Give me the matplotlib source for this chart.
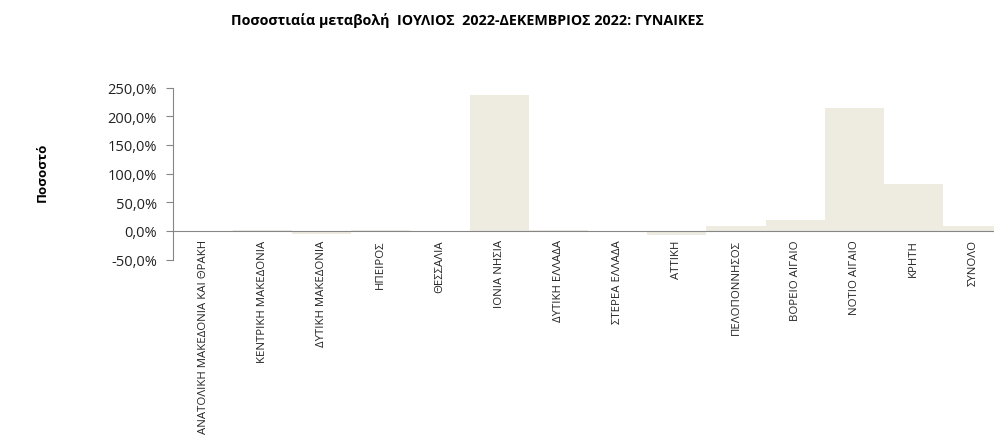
import matplotlib
matplotlib.use("Agg")
import matplotlib.pyplot as plt
from matplotlib.ticker import FuncFormatter, MultipleLocator

plt.rcParams['font.family'] = ['Open Sans', 'DejaVu Sans']

categories = ["ΑΝΑΤΟΛΙΚΗ ΜΑΚΕΔΟΝΙΑ ΚΑΙ ΘΡΑΚΗ", "ΚΕΝΤΡΙΚΗ ΜΑΚΕΔΟΝΙΑ", "ΔΥΤΙΚΗ ΜΑΚΕΔΟΝΙΑ",
              "ΗΠΕΙΡΟΣ", "ΘΕΣΣΑΛΙΑ", "ΙΟΝΙΑ ΝΗΣΙΑ", "ΔΥΤΙΚΗ ΕΛΛΑΔΑ", "ΣΤΕΡΕΑ ΕΛΛΑΔΑ",
              "ΑΤΤΙΚΗ", "ΠΕΛΟΠΟΝΝΗΣΟΣ", "ΒΟΡΕΙΟ ΑΙΓΑΙΟ", "ΝΟΤΙΟ ΑΙΓΑΙΟ", "ΚΡΗΤΗ", "ΣΥΝΟΛΟ"]
values = [0.2, 1.5, -5.0, 2.0, 0.2, 237.0, 1.0, 0.2, -7.0, 8.0, 18.5, 214.0, 82.5, 8.0]

title = "Ποσοστιαία μεταβολή  ΙΟΥΛΙΟΣ  2022-ΔΕΚΕΜΒΡΙΟΣ 2022: ΓΥΝΑΙΚΕΣ"
ylabel = "Ποσοστό"

W, H = 995, 439
fig = plt.figure(figsize=(W / 100, H / 100), dpi=100)
ax = fig.add_axes([173.5 / W, (H - 260.7) / H, 829 / W, 172.2 / H])

x = range(len(categories))
ax.bar(x, values, width=1.0, color="#EEECE1", edgecolor="none", zorder=2)

ax.set_xlim(-0.5, len(categories) - 0.5)
ax.set_ylim(-50, 250)
ax.yaxis.set_major_locator(MultipleLocator(50))
ax.yaxis.set_major_formatter(FuncFormatter(lambda v, p: f"{v:.1f}%".replace(".", ",")))

ax.spines['top'].set_visible(False)
ax.spines['right'].set_visible(False)
ax.spines['left'].set_color("#868686")
ax.spines['bottom'].set_color("#868686")
ax.spines['bottom'].set_position(('data', 0))
ax.spines['bottom'].set_zorder(3)

ax.set_xticks(list(x))
ax.set_xticklabels(categories, rotation=90, fontsize=8.2, color="#222222")
ax.tick_params(axis='x', length=0, pad=6)
ax.tick_params(axis='y', length=5, color="#868686", labelsize=10.5, labelcolor="#222222", pad=7)

fig.text(467 / W, 1 - 20 / H, title, ha='center', va='center', fontsize=10.3, fontweight='bold')
fig.text(42 / W, 1 - 172 / H, ylabel, ha='center', va='center', rotation=90, fontsize=9.5, fontweight='bold')

fig.savefig("out.png", dpi=100)
